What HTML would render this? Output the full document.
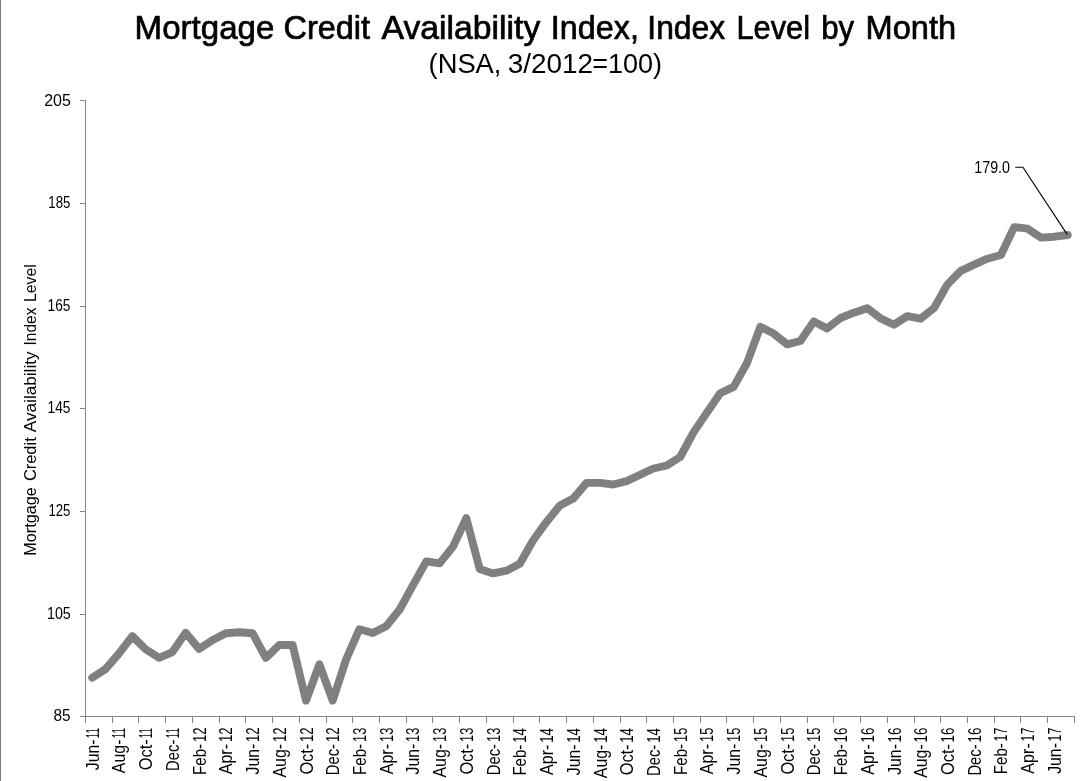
<!DOCTYPE html>
<html lang="en">
<head>
<meta charset="utf-8">
<title>Mortgage Credit Availability Index, Index Level by Month</title>
<style>
html,body{margin:0;padding:0;background:#fff;}
body{width:1082px;height:781px;overflow:hidden;}
svg{display:block;filter:grayscale(1);}
text{font-family:"Liberation Sans", sans-serif;fill:#000;}
</style>
</head>
<body>
<svg width="1082" height="781" viewBox="0 0 1082 781">
<rect x="0" y="0" width="1082" height="781" fill="#ffffff"/>
<rect x="0" y="0" width="1" height="781" fill="#7d7d7d"/>
<g id="chart-title" stroke="#000" stroke-width="0.7" stroke-linejoin="round">
<text x="134.63" y="38.50" font-size="32.6" textLength="139.68" lengthAdjust="spacingAndGlyphs">Mortgage</text>
<text x="283.44" y="38.50" font-size="32.6" textLength="86.58" lengthAdjust="spacingAndGlyphs">Credit</text>
<text x="381.60" y="38.50" font-size="32.6" textLength="158.75" lengthAdjust="spacingAndGlyphs">Availability</text>
<text x="550.86" y="38.50" font-size="32.6" textLength="88.06" lengthAdjust="spacingAndGlyphs">Index,</text>
<text x="647.32" y="38.50" font-size="32.6" textLength="77.77" lengthAdjust="spacingAndGlyphs">Index</text>
<text x="736.41" y="38.50" font-size="32.6" textLength="73.68" lengthAdjust="spacingAndGlyphs">Level</text>
<text x="821.16" y="38.50" font-size="32.6" textLength="32.98" lengthAdjust="spacingAndGlyphs">by</text>
<text x="865.57" y="38.50" font-size="32.6" textLength="90.54" lengthAdjust="spacingAndGlyphs">Month</text>
</g>
<g id="chart-subtitle" fill="#111">
<text x="428.61" y="72.80" font-size="27.2" textLength="72.81" lengthAdjust="spacingAndGlyphs">(NSA,</text>
<text x="507.79" y="72.80" font-size="27.2" textLength="85.23" lengthAdjust="spacingAndGlyphs">3/2012</text>
<text x="592.27" y="72.80" font-size="27.2" textLength="69.82" lengthAdjust="spacingAndGlyphs">=100)</text>
</g>
<g id="axes" stroke="#868686" stroke-width="1" fill="none" shape-rendering="crispEdges">
<line x1="85.5" y1="100.0" x2="85.5" y2="722.5"/>
<line x1="80.0" y1="716.5" x2="1074.9" y2="716.5"/>
<line x1="80.0" y1="100.5" x2="85.5" y2="100.5"/>
<line x1="80.0" y1="203.5" x2="85.5" y2="203.5"/>
<line x1="80.0" y1="306.5" x2="85.5" y2="306.5"/>
<line x1="80.0" y1="408.5" x2="85.5" y2="408.5"/>
<line x1="80.0" y1="511.5" x2="85.5" y2="511.5"/>
<line x1="80.0" y1="614.5" x2="85.5" y2="614.5"/>
<line x1="112.5" y1="716.5" x2="112.5" y2="722.5"/>
<line x1="138.5" y1="716.5" x2="138.5" y2="722.5"/>
<line x1="165.5" y1="716.5" x2="165.5" y2="722.5"/>
<line x1="192.5" y1="716.5" x2="192.5" y2="722.5"/>
<line x1="219.5" y1="716.5" x2="219.5" y2="722.5"/>
<line x1="245.5" y1="716.5" x2="245.5" y2="722.5"/>
<line x1="272.5" y1="716.5" x2="272.5" y2="722.5"/>
<line x1="299.5" y1="716.5" x2="299.5" y2="722.5"/>
<line x1="326.5" y1="716.5" x2="326.5" y2="722.5"/>
<line x1="352.5" y1="716.5" x2="352.5" y2="722.5"/>
<line x1="379.5" y1="716.5" x2="379.5" y2="722.5"/>
<line x1="406.5" y1="716.5" x2="406.5" y2="722.5"/>
<line x1="432.5" y1="716.5" x2="432.5" y2="722.5"/>
<line x1="459.5" y1="716.5" x2="459.5" y2="722.5"/>
<line x1="486.5" y1="716.5" x2="486.5" y2="722.5"/>
<line x1="513.5" y1="716.5" x2="513.5" y2="722.5"/>
<line x1="539.5" y1="716.5" x2="539.5" y2="722.5"/>
<line x1="566.5" y1="716.5" x2="566.5" y2="722.5"/>
<line x1="593.5" y1="716.5" x2="593.5" y2="722.5"/>
<line x1="620.5" y1="716.5" x2="620.5" y2="722.5"/>
<line x1="646.5" y1="716.5" x2="646.5" y2="722.5"/>
<line x1="673.5" y1="716.5" x2="673.5" y2="722.5"/>
<line x1="700.5" y1="716.5" x2="700.5" y2="722.5"/>
<line x1="726.5" y1="716.5" x2="726.5" y2="722.5"/>
<line x1="753.5" y1="716.5" x2="753.5" y2="722.5"/>
<line x1="780.5" y1="716.5" x2="780.5" y2="722.5"/>
<line x1="807.5" y1="716.5" x2="807.5" y2="722.5"/>
<line x1="833.5" y1="716.5" x2="833.5" y2="722.5"/>
<line x1="860.5" y1="716.5" x2="860.5" y2="722.5"/>
<line x1="887.5" y1="716.5" x2="887.5" y2="722.5"/>
<line x1="914.5" y1="716.5" x2="914.5" y2="722.5"/>
<line x1="940.5" y1="716.5" x2="940.5" y2="722.5"/>
<line x1="967.5" y1="716.5" x2="967.5" y2="722.5"/>
<line x1="994.5" y1="716.5" x2="994.5" y2="722.5"/>
<line x1="1020.5" y1="716.5" x2="1020.5" y2="722.5"/>
<line x1="1047.5" y1="716.5" x2="1047.5" y2="722.5"/>
<line x1="1074.5" y1="716.5" x2="1074.5" y2="722.5"/>
</g>
<g id="y-tick-labels">
<text x="44.13" y="106.00" font-size="17.2" textLength="26.72" lengthAdjust="spacingAndGlyphs">205</text>
<text x="48.35" y="208.00" font-size="17.2" textLength="22.13" lengthAdjust="spacingAndGlyphs">185</text>
<text x="47.55" y="311.00" font-size="17.2" textLength="22.82" lengthAdjust="spacingAndGlyphs">165</text>
<text x="47.55" y="413.00" font-size="17.2" textLength="22.82" lengthAdjust="spacingAndGlyphs">145</text>
<text x="48.42" y="516.00" font-size="17.2" textLength="22.01" lengthAdjust="spacingAndGlyphs">125</text>
<text x="46.95" y="619.00" font-size="17.2" textLength="23.83" lengthAdjust="spacingAndGlyphs">105</text>
<text x="53.51" y="721.00" font-size="17.2" textLength="17.13" lengthAdjust="spacingAndGlyphs">85</text>
</g>
<g id="y-axis-title" transform="translate(35.8,555.1) rotate(-90)">
<text x="-0.75" y="0.00" font-size="17.2" textLength="68.64" lengthAdjust="spacingAndGlyphs">Mortgage</text>
<text x="74.02" y="0.00" font-size="17.2" textLength="43.79" lengthAdjust="spacingAndGlyphs">Credit</text>
<text x="122.94" y="0.00" font-size="17.2" textLength="80.70" lengthAdjust="spacingAndGlyphs">Availability</text>
<text x="209.59" y="0.00" font-size="17.2" textLength="37.92" lengthAdjust="spacingAndGlyphs">Index</text>
<text x="253.20" y="0.00" font-size="17.2" textLength="37.67" lengthAdjust="spacingAndGlyphs">Level</text>
</g>
<g id="x-tick-labels">
<text transform="translate(98.7,728.5) rotate(-90)" font-size="17.6"><tspan x="-41.63" textLength="30.73" lengthAdjust="spacingAndGlyphs">Jun-</tspan><tspan x="-9.85" textLength="10.26" lengthAdjust="spacingAndGlyphs">11</tspan></text>
<text transform="translate(125.4,728.5) rotate(-90)" font-size="17.6"><tspan x="-44.63" textLength="33.60" lengthAdjust="spacingAndGlyphs">Aug-</tspan><tspan x="-9.85" textLength="10.26" lengthAdjust="spacingAndGlyphs">11</tspan></text>
<text transform="translate(152.1,728.5) rotate(-90)" font-size="17.6"><tspan x="-41.71" textLength="30.85" lengthAdjust="spacingAndGlyphs">Oct-</tspan><tspan x="-9.85" textLength="10.26" lengthAdjust="spacingAndGlyphs">11</tspan></text>
<text transform="translate(178.9,728.5) rotate(-90)" font-size="17.6"><tspan x="-42.40" textLength="31.29" lengthAdjust="spacingAndGlyphs">Dec-</tspan><tspan x="-9.85" textLength="10.26" lengthAdjust="spacingAndGlyphs">11</tspan></text>
<text transform="translate(205.6,728.5) rotate(-90)" font-size="17.6"><tspan x="-46.40" textLength="30.99" lengthAdjust="spacingAndGlyphs">Feb-</tspan><tspan x="-13.60" textLength="14.56" lengthAdjust="spacingAndGlyphs">12</tspan></text>
<text transform="translate(232.3,728.5) rotate(-90)" font-size="17.6"><tspan x="-45.83" textLength="30.40" lengthAdjust="spacingAndGlyphs">Apr-</tspan><tspan x="-13.60" textLength="14.56" lengthAdjust="spacingAndGlyphs">12</tspan></text>
<text transform="translate(259.0,728.5) rotate(-90)" font-size="17.6"><tspan x="-46.03" textLength="30.73" lengthAdjust="spacingAndGlyphs">Jun-</tspan><tspan x="-13.60" textLength="14.56" lengthAdjust="spacingAndGlyphs">12</tspan></text>
<text transform="translate(285.8,728.5) rotate(-90)" font-size="17.6"><tspan x="-49.03" textLength="33.60" lengthAdjust="spacingAndGlyphs">Aug-</tspan><tspan x="-13.60" textLength="14.56" lengthAdjust="spacingAndGlyphs">12</tspan></text>
<text transform="translate(312.5,728.5) rotate(-90)" font-size="17.6"><tspan x="-46.11" textLength="30.85" lengthAdjust="spacingAndGlyphs">Oct-</tspan><tspan x="-13.60" textLength="14.56" lengthAdjust="spacingAndGlyphs">12</tspan></text>
<text transform="translate(339.2,728.5) rotate(-90)" font-size="17.6"><tspan x="-46.80" textLength="31.29" lengthAdjust="spacingAndGlyphs">Dec-</tspan><tspan x="-13.60" textLength="14.56" lengthAdjust="spacingAndGlyphs">12</tspan></text>
<text transform="translate(365.9,728.5) rotate(-90)" font-size="17.6"><tspan x="-46.40" textLength="30.99" lengthAdjust="spacingAndGlyphs">Feb-</tspan><tspan x="-13.40" textLength="14.24" lengthAdjust="spacingAndGlyphs">13</tspan></text>
<text transform="translate(392.7,728.5) rotate(-90)" font-size="17.6"><tspan x="-45.83" textLength="30.40" lengthAdjust="spacingAndGlyphs">Apr-</tspan><tspan x="-13.40" textLength="14.24" lengthAdjust="spacingAndGlyphs">13</tspan></text>
<text transform="translate(419.4,728.5) rotate(-90)" font-size="17.6"><tspan x="-46.03" textLength="30.73" lengthAdjust="spacingAndGlyphs">Jun-</tspan><tspan x="-13.40" textLength="14.24" lengthAdjust="spacingAndGlyphs">13</tspan></text>
<text transform="translate(446.1,728.5) rotate(-90)" font-size="17.6"><tspan x="-49.03" textLength="33.60" lengthAdjust="spacingAndGlyphs">Aug-</tspan><tspan x="-13.40" textLength="14.24" lengthAdjust="spacingAndGlyphs">13</tspan></text>
<text transform="translate(472.8,728.5) rotate(-90)" font-size="17.6"><tspan x="-46.11" textLength="30.85" lengthAdjust="spacingAndGlyphs">Oct-</tspan><tspan x="-13.40" textLength="14.24" lengthAdjust="spacingAndGlyphs">13</tspan></text>
<text transform="translate(499.6,728.5) rotate(-90)" font-size="17.6"><tspan x="-46.80" textLength="31.29" lengthAdjust="spacingAndGlyphs">Dec-</tspan><tspan x="-13.40" textLength="14.24" lengthAdjust="spacingAndGlyphs">13</tspan></text>
<text transform="translate(526.3,728.5) rotate(-90)" font-size="17.6"><tspan x="-47.10" textLength="30.99" lengthAdjust="spacingAndGlyphs">Feb-</tspan><tspan x="-14.23" textLength="14.61" lengthAdjust="spacingAndGlyphs">14</tspan></text>
<text transform="translate(553.0,728.5) rotate(-90)" font-size="17.6"><tspan x="-46.53" textLength="30.40" lengthAdjust="spacingAndGlyphs">Apr-</tspan><tspan x="-14.23" textLength="14.61" lengthAdjust="spacingAndGlyphs">14</tspan></text>
<text transform="translate(579.7,728.5) rotate(-90)" font-size="17.6"><tspan x="-46.73" textLength="30.73" lengthAdjust="spacingAndGlyphs">Jun-</tspan><tspan x="-14.23" textLength="14.61" lengthAdjust="spacingAndGlyphs">14</tspan></text>
<text transform="translate(606.5,728.5) rotate(-90)" font-size="17.6"><tspan x="-49.73" textLength="33.60" lengthAdjust="spacingAndGlyphs">Aug-</tspan><tspan x="-14.23" textLength="14.61" lengthAdjust="spacingAndGlyphs">14</tspan></text>
<text transform="translate(633.2,728.5) rotate(-90)" font-size="17.6"><tspan x="-46.81" textLength="30.85" lengthAdjust="spacingAndGlyphs">Oct-</tspan><tspan x="-14.23" textLength="14.61" lengthAdjust="spacingAndGlyphs">14</tspan></text>
<text transform="translate(659.9,728.5) rotate(-90)" font-size="17.6"><tspan x="-47.50" textLength="31.29" lengthAdjust="spacingAndGlyphs">Dec-</tspan><tspan x="-14.23" textLength="14.61" lengthAdjust="spacingAndGlyphs">14</tspan></text>
<text transform="translate(686.7,728.5) rotate(-90)" font-size="17.6"><tspan x="-46.40" textLength="30.99" lengthAdjust="spacingAndGlyphs">Feb-</tspan><tspan x="-13.49" textLength="14.30" lengthAdjust="spacingAndGlyphs">15</tspan></text>
<text transform="translate(713.4,728.5) rotate(-90)" font-size="17.6"><tspan x="-45.83" textLength="30.40" lengthAdjust="spacingAndGlyphs">Apr-</tspan><tspan x="-13.49" textLength="14.30" lengthAdjust="spacingAndGlyphs">15</tspan></text>
<text transform="translate(740.1,728.5) rotate(-90)" font-size="17.6"><tspan x="-46.03" textLength="30.73" lengthAdjust="spacingAndGlyphs">Jun-</tspan><tspan x="-13.49" textLength="14.30" lengthAdjust="spacingAndGlyphs">15</tspan></text>
<text transform="translate(766.8,728.5) rotate(-90)" font-size="17.6"><tspan x="-49.03" textLength="33.60" lengthAdjust="spacingAndGlyphs">Aug-</tspan><tspan x="-13.49" textLength="14.30" lengthAdjust="spacingAndGlyphs">15</tspan></text>
<text transform="translate(793.6,728.5) rotate(-90)" font-size="17.6"><tspan x="-46.11" textLength="30.85" lengthAdjust="spacingAndGlyphs">Oct-</tspan><tspan x="-13.49" textLength="14.30" lengthAdjust="spacingAndGlyphs">15</tspan></text>
<text transform="translate(820.3,728.5) rotate(-90)" font-size="17.6"><tspan x="-46.80" textLength="31.29" lengthAdjust="spacingAndGlyphs">Dec-</tspan><tspan x="-13.49" textLength="14.30" lengthAdjust="spacingAndGlyphs">15</tspan></text>
<text transform="translate(847.0,728.5) rotate(-90)" font-size="17.6"><tspan x="-46.70" textLength="30.99" lengthAdjust="spacingAndGlyphs">Feb-</tspan><tspan x="-13.92" textLength="14.82" lengthAdjust="spacingAndGlyphs">16</tspan></text>
<text transform="translate(873.7,728.5) rotate(-90)" font-size="17.6"><tspan x="-46.13" textLength="30.40" lengthAdjust="spacingAndGlyphs">Apr-</tspan><tspan x="-13.92" textLength="14.82" lengthAdjust="spacingAndGlyphs">16</tspan></text>
<text transform="translate(900.5,728.5) rotate(-90)" font-size="17.6"><tspan x="-46.33" textLength="30.73" lengthAdjust="spacingAndGlyphs">Jun-</tspan><tspan x="-13.92" textLength="14.82" lengthAdjust="spacingAndGlyphs">16</tspan></text>
<text transform="translate(927.2,728.5) rotate(-90)" font-size="17.6"><tspan x="-49.33" textLength="33.60" lengthAdjust="spacingAndGlyphs">Aug-</tspan><tspan x="-13.92" textLength="14.82" lengthAdjust="spacingAndGlyphs">16</tspan></text>
<text transform="translate(953.9,728.5) rotate(-90)" font-size="17.6"><tspan x="-46.41" textLength="30.85" lengthAdjust="spacingAndGlyphs">Oct-</tspan><tspan x="-13.92" textLength="14.82" lengthAdjust="spacingAndGlyphs">16</tspan></text>
<text transform="translate(980.6,728.5) rotate(-90)" font-size="17.6"><tspan x="-47.10" textLength="31.29" lengthAdjust="spacingAndGlyphs">Dec-</tspan><tspan x="-13.92" textLength="14.82" lengthAdjust="spacingAndGlyphs">16</tspan></text>
<text transform="translate(1007.4,728.5) rotate(-90)" font-size="17.6"><tspan x="-45.70" textLength="30.99" lengthAdjust="spacingAndGlyphs">Feb-</tspan><tspan x="-12.96" textLength="13.75" lengthAdjust="spacingAndGlyphs">17</tspan></text>
<text transform="translate(1034.1,728.5) rotate(-90)" font-size="17.6"><tspan x="-45.13" textLength="30.40" lengthAdjust="spacingAndGlyphs">Apr-</tspan><tspan x="-12.96" textLength="13.75" lengthAdjust="spacingAndGlyphs">17</tspan></text>
<text transform="translate(1060.8,728.5) rotate(-90)" font-size="17.6"><tspan x="-45.33" textLength="30.73" lengthAdjust="spacingAndGlyphs">Jun-</tspan><tspan x="-12.96" textLength="13.75" lengthAdjust="spacingAndGlyphs">17</tspan></text>
</g>
<polyline id="series" points="92.2,677.7 105.5,669.1 118.9,653.6 132.3,636.1 145.6,649.2 159.0,657.8 172.4,652.1 185.7,632.8 199.1,648.9 212.4,640.3 225.8,633.3 239.2,632.3 252.5,633.2 265.9,657.8 279.3,645.0 292.6,645.0 306.0,700.6 319.4,664.3 332.7,700.6 346.1,659.5 359.4,629.2 372.8,633.0 386.2,626.2 399.5,609.8 412.9,585.3 426.3,561.4 439.6,563.4 453.0,546.6 466.3,518.2 479.7,569.1 493.1,573.4 506.4,570.7 519.8,563.8 533.2,540.2 546.5,521.9 559.9,505.4 573.2,498.6 586.6,482.9 600.0,482.9 613.3,484.5 626.7,481.1 640.1,474.7 653.4,468.5 666.8,465.5 680.2,457.0 693.5,432.4 706.9,412.6 720.2,393.3 733.6,386.9 747.0,363.0 760.3,326.8 773.7,333.6 787.1,344.3 800.4,341.0 813.8,321.4 827.1,328.4 840.5,318.0 853.9,312.7 867.2,308.2 880.6,318.4 894.0,324.7 907.3,316.2 920.7,318.7 934.1,308.0 947.4,284.4 960.8,270.8 974.1,264.6 987.5,258.7 1000.9,255.0 1014.2,227.1 1027.6,228.7 1041.0,237.6 1054.3,236.7 1067.7,235.0" fill="none" stroke="#808080" stroke-width="7.9" stroke-linecap="round" stroke-linejoin="round"/>
<polyline points="1015.3,167.3 1022.9,167.3 1067.3,234.6" fill="none" stroke="#000" stroke-width="1.1"/>
<text x="974.26" y="173.00" font-size="17.4" textLength="35.73" lengthAdjust="spacingAndGlyphs">179.0</text>
</svg>
</body>
</html>
